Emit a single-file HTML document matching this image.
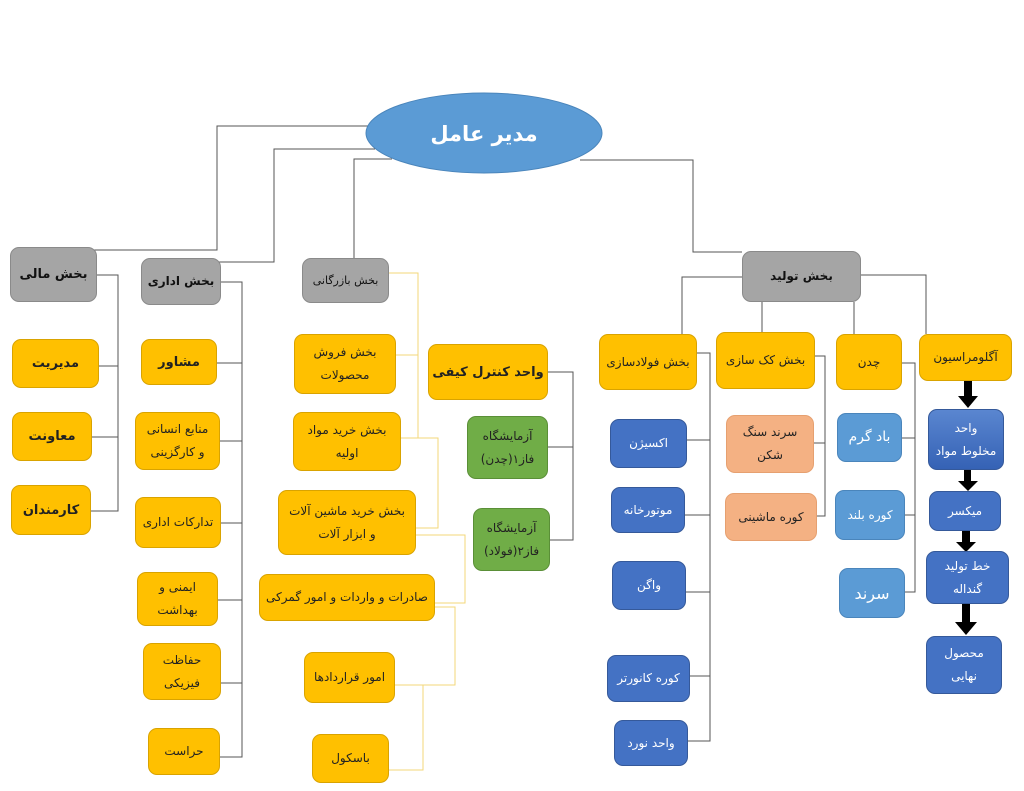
<!DOCTYPE html>
<html><head><meta charset="utf-8">
<style>
body{margin:0;width:1024px;height:791px;background:#fff;position:relative;overflow:hidden;font-family:"DejaVu Sans","Liberation Sans",sans-serif;}
.b{position:absolute;box-sizing:border-box;border-radius:9px;display:flex;align-items:center;justify-content:center;text-align:center;font-size:12px;line-height:23px;direction:rtl;}
.g{background:#a5a5a5;border:1px solid #8a8a8a;color:#111;font-weight:bold;font-size:12px;}
.y{background:#ffc000;border:1px solid #d9a300;color:#222;}
.bd{font-weight:bold;font-size:13px;}
.gr{background:#70ad47;border:1px solid #5a8f37;color:#222;}
.db{background:#4472c4;border:1px solid #35599a;color:#fff;}
.lb{background:#5b9bd5;border:1px solid #4a85bb;color:#fff;}
.s{background:#f4b183;border:1px solid #e6a070;color:#222;}
svg{position:absolute;left:0;top:0;}
</style></head><body>
<svg width="1024" height="791">
<g fill="none" stroke="#555" stroke-width="1">
<polyline points="370,126 217,126 217,250 68,250"/>
<polyline points="375,149 274,149 274,262 218,262"/>
<polyline points="392,159 354,159 354,262"/>
<polyline points="580,160 693,160 693,252 742,252"/>
<polyline points="97,275 118,275 118,366 99,366"/>
<polyline points="118,366 118,437 92,437"/>
<polyline points="118,437 118,511 91,511"/>
<polyline points="221,282 242,282 242,757 220,757"/>
<line x1="217" y1="363" x2="242" y2="363"/><line x1="220" y1="441" x2="242" y2="441"/><line x1="221" y1="523" x2="242" y2="523"/><line x1="218" y1="600" x2="242" y2="600"/><line x1="221" y1="683" x2="242" y2="683"/>
<polyline points="548,372 573,372 573,540 550,540"/><line x1="548" y1="447" x2="573" y2="447"/>
<polyline points="742,277 682,277 682,334"/>
<line x1="762" y1="302" x2="762" y2="332"/><line x1="854" y1="302" x2="854" y2="334"/>
<polyline points="861,275 926,275 926,334"/>
<polyline points="691,353 710,353 710,741 688,741"/>
<line x1="687" y1="440" x2="710" y2="440"/><line x1="685" y1="515" x2="710" y2="515"/><line x1="686" y1="592" x2="710" y2="592"/><line x1="690" y1="676" x2="710" y2="676"/>
<polyline points="815,356 825,356 825,516 815,516"/><line x1="814" y1="443" x2="825" y2="443"/>
<polyline points="902,363 915,363 915,592 905,592"/><line x1="902" y1="438" x2="915" y2="438"/><line x1="905" y1="515" x2="915" y2="515"/>
</g>
<g fill="none" stroke="#f3d77a" stroke-width="1">
<polyline points="389,273 418,273 418,355 396,355"/>
<polyline points="396,355 418,355 418,438 401,438"/>
<polyline points="401,438 438,438 438,528 416,528"/>
<polyline points="416,535 465,535 465,603 435,603"/>
<polyline points="435,607 455,607 455,685 395,685"/>
<polyline points="395,685 423,685 423,770 389,770"/>
</g>
<ellipse cx="484" cy="133" rx="118" ry="40" fill="#5b9bd5" stroke="#4a85bb"/>
<text x="484" y="141" text-anchor="middle" font-family="DejaVu Sans,sans-serif" font-size="21" font-weight="bold" fill="#fff" direction="rtl">مدیر عامل</text>
<g fill="#000">
<rect x="964" y="380" width="8" height="16"/><polygon points="958,396 978,396 968,408"/>
<rect x="964" y="470" width="7" height="11"/><polygon points="958,481 978,481 968,491"/>
<rect x="962" y="531" width="8" height="11"/><polygon points="956,542 976,542 966,552"/>
<rect x="962" y="604" width="8" height="18"/><polygon points="955,622 977,622 966,635"/>
</g>
</svg>
<div class="b g" style="left:10px;top:247px;width:87px;height:55px;font-size:13px">بخش مالی</div>
<div class="b y bd" style="left:12px;top:339px;width:87px;height:49px">مدیریت</div>
<div class="b y bd" style="left:12px;top:412px;width:80px;height:49px">معاونت</div>
<div class="b y bd" style="left:11px;top:485px;width:80px;height:50px">کارمندان</div>

<div class="b g" style="left:141px;top:258px;width:80px;height:47px">بخش اداری</div>
<div class="b y bd" style="left:141px;top:339px;width:76px;height:46px">مشاور</div>
<div class="b y" style="left:135px;top:412px;width:85px;height:58px">منابع انسانی<br>و کارگزینی</div>
<div class="b y" style="left:135px;top:497px;width:86px;height:51px">تدارکات اداری</div>
<div class="b y" style="left:137px;top:572px;width:81px;height:54px">ایمنی و<br>بهداشت</div>
<div class="b y" style="left:143px;top:643px;width:78px;height:57px">حفاظت<br>فیزیکی</div>
<div class="b y" style="left:148px;top:728px;width:72px;height:47px">حراست</div>

<div class="b g" style="left:302px;top:258px;width:87px;height:45px;font-weight:normal;font-size:11px">بخش بازرگانی</div>
<div class="b y" style="left:294px;top:334px;width:102px;height:60px">بخش فروش<br>محصولات</div>
<div class="b y" style="left:293px;top:412px;width:108px;height:59px">بخش خرید مواد<br>اولیه</div>
<div class="b y" style="left:278px;top:490px;width:138px;height:65px">بخش خرید ماشین آلات<br>و ابزار آلات</div>
<div class="b y" style="left:259px;top:574px;width:176px;height:47px">صادرات و  واردات و امور گمرکی</div>
<div class="b y" style="left:304px;top:652px;width:91px;height:51px">امور قراردادها</div>
<div class="b y" style="left:312px;top:734px;width:77px;height:49px">باسکول</div>

<div class="b y bd" style="left:428px;top:344px;width:120px;height:56px">واحد کنترل کیفی</div>
<div class="b gr" style="left:467px;top:416px;width:81px;height:63px">آزمایشگاه<br>فاز۱(چدن)</div>
<div class="b gr" style="left:473px;top:508px;width:77px;height:63px">آزمایشگاه<br>فاز۲(فولاد)</div>

<div class="b g" style="left:742px;top:251px;width:119px;height:51px">بخش تولید</div>
<div class="b y" style="left:599px;top:334px;width:98px;height:56px">بخش فولادسازی</div>
<div class="b y" style="left:716px;top:332px;width:99px;height:57px">بخش کک سازی</div>
<div class="b y" style="left:836px;top:334px;width:66px;height:56px">چدن</div>
<div class="b y" style="left:919px;top:334px;width:93px;height:47px">آگلومراسیون</div>

<div class="b db" style="left:610px;top:419px;width:77px;height:49px">اکسیژن</div>
<div class="b db" style="left:611px;top:487px;width:74px;height:46px">موتورخانه</div>
<div class="b db" style="left:612px;top:561px;width:74px;height:49px">واگن</div>
<div class="b db" style="left:607px;top:655px;width:83px;height:47px">کوره کانورتر</div>
<div class="b db" style="left:614px;top:720px;width:74px;height:46px">واحد نورد</div>

<div class="b s" style="left:726px;top:415px;width:88px;height:58px">سرند سنگ<br>شکن</div>
<div class="b s" style="left:725px;top:493px;width:92px;height:48px">کوره ماشینی</div>

<div class="b lb" style="left:837px;top:413px;width:65px;height:49px;font-size:14px">باد گرم</div>
<div class="b lb" style="left:835px;top:490px;width:70px;height:50px;font-size:12px">کوره بلند</div>
<div class="b lb" style="left:839px;top:568px;width:66px;height:50px;font-size:16px">سرند</div>

<div class="b db" style="left:928px;top:409px;width:76px;height:61px;background:linear-gradient(#5a86d0,#3562b5)">واحد<br>مخلوط مواد</div>
<div class="b db" style="left:929px;top:491px;width:72px;height:40px">میکسر</div>
<div class="b db" style="left:926px;top:551px;width:83px;height:53px">خط تولید<br>گنداله</div>
<div class="b db" style="left:926px;top:636px;width:76px;height:58px">محصول<br>نهایی</div>
</body></html>
